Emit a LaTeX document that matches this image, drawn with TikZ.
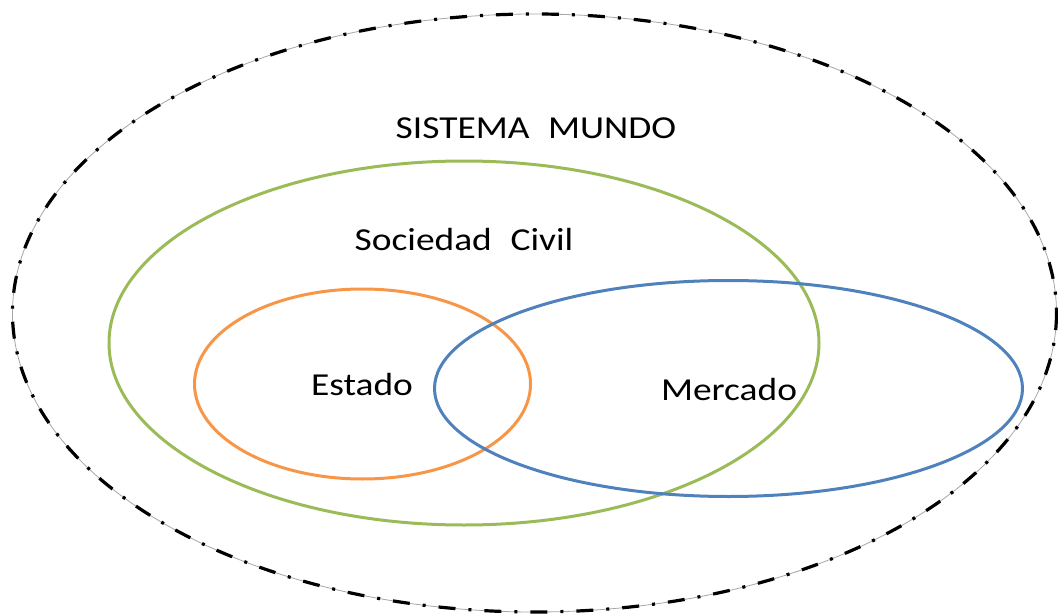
\documentclass[tikz,border=0pt]{standalone}
\usepackage{fontspec}
\setmainfont{Carlito}
\begin{document}
\begin{tikzpicture}[x=1pt,y=-1pt,
  ring/.style={line width=3pt},
  lbl/.style={font=\fontsize{32}{38}\selectfont, xscale=1.17, text=black, inner sep=0pt}]
\useasboundingbox (0,0) rectangle (1058,615);
% outer ellipse
\draw[gray!70, line width=0.8pt] (534.5,313) ellipse [x radius=522, y radius=299];
\draw[black, line width=3.2pt, dash pattern=on 17pt off 13pt on 3pt off 13pt] (534.5,313) ellipse [x radius=522, y radius=299];
% inner ellipses
\draw[ring, color={rgb,255:red,155;green,187;blue,89}] (464,343) ellipse [x radius=355, y radius=182];
\draw[ring, color={rgb,255:red,247;green,150;blue,70}] (362.5,384) ellipse [x radius=168, y radius=95];
\draw[ring, color={rgb,255:red,79;green,129;blue,189}] (728.5,388.5) ellipse [x radius=294, y radius=108];
% labels
\node[lbl] (mundo) at (536,128) {SISTEMA\hspace{0.5em}MUNDO};
\node[lbl] (civil) at (464,240) {Sociedad\hspace{0.5em}Civil};
\node[lbl] (estado) at (362,385) {Estado};
\node[lbl] (mercado) at (729,390) {Mercado};
\end{tikzpicture}
\end{document}
